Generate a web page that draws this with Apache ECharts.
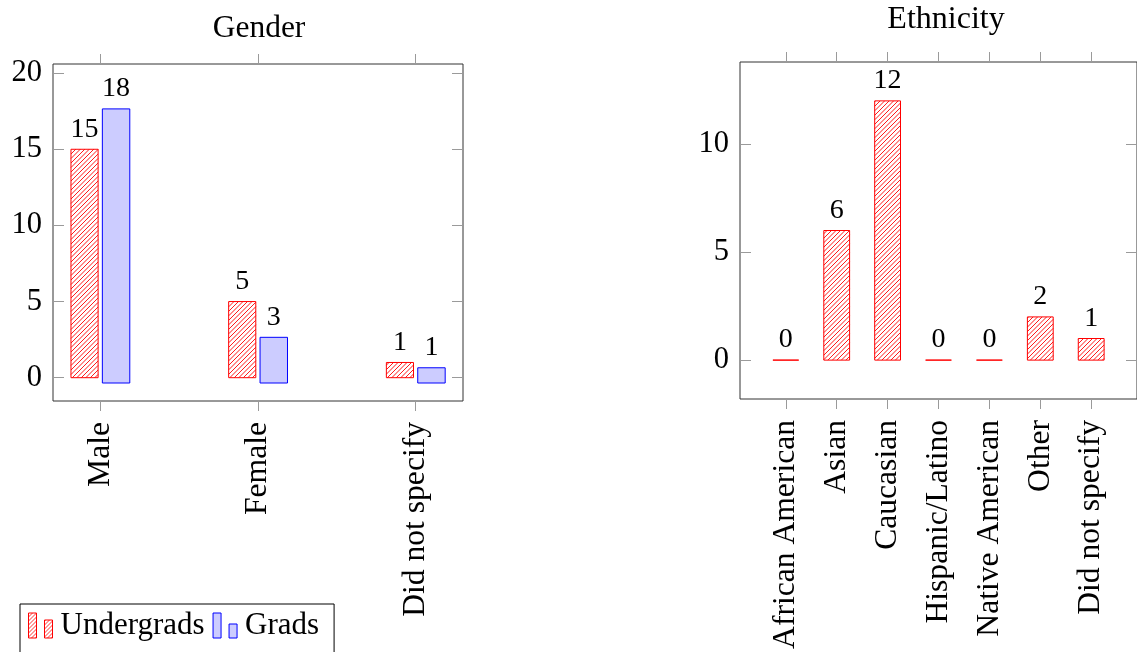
<!DOCTYPE html>
<html><head><meta charset="utf-8">
<script src="https://cdn.jsdelivr.net/npm/echarts@6/dist/echarts.min.js"></script>
<style>html,body{margin:0;padding:0;background:#fff}#c{width:1137px;height:652px}</style>
</head><body><div id="c"></div>
<script>
const genderCategories = ['Male', 'Female', 'Did not specify'];
const undergradGender = [15, 5, 1];
const gradGender = [18, 3, 1];
const ethnicityCategories = ['African American', 'Asian', 'Caucasian', 'Hispanic/Latino', 'Native American', 'Other', 'Did not specify'];
const undergradEthnicity = [0, 6, 12, 0, 0, 2, 1];
const genderTicks = [0, 5, 10, 15, 20];
const ethnicityTicks = [0, 5, 10];

const FONT = '"Liberation Serif", "Times New Roman", serif';
const HATCH_STEP = 4.5;

function makeHatch() {
  const c = document.createElement('canvas');
  c.width = 4; c.height = 4;
  const g = c.getContext('2d');
  g.strokeStyle = '#ff0000';
  g.lineWidth = 0.8;
  g.beginPath();
  g.moveTo(0, 4); g.lineTo(4, 0);
  g.moveTo(-1, 1); g.lineTo(1, -1);
  g.moveTo(3, 5); g.lineTo(5, 3);
  g.stroke();
  return c;
}
const hatchPattern = { image: makeHatch(), repeat: 'repeat' };

function hatchLines(x0, y0, x1, y1, color) {
  const out = [];
  if (y1 - y0 < 1) return out;
  const s = HATCH_STEP;
  for (let c = Math.ceil((x0 + y0) / s) * s; c < x1 + y1; c += s) {
    const xs = Math.max(x0, c - y1), xe = Math.min(x1, c - y0);
    if (xe - xs > 0.3) {
      out.push({ type: 'line', shape: { x1: xs, y1: c - xs, x2: xe, y2: c - xe },
        style: { stroke: color, lineWidth: 0.9 }, silent: true });
    }
  }
  return out;
}

function barRenderer(offset, width, shiftPx, fill, stroke, fontSize, hatched) {
  return function (params, api) {
    const cat = api.value(0), v = api.value(1);
    const a = api.coord([cat + offset - width / 2, 0]);
    const b = api.coord([cat + offset + width / 2, v]);
    const x = a[0], w = b[0] - a[0];
    const yTop = b[1] + shiftPx, yBot = a[1] + shiftPx;
    const children = [
      { type: 'rect', shape: { x: x, y: yTop, width: w, height: Math.max(yBot - yTop, 0) },
        style: { fill: fill, stroke: null } }
    ];
    if (hatched) children.push.apply(children, hatchLines(x, yTop, x + w, yBot, stroke));
    children.push(
      { type: 'rect', shape: { x: x, y: yTop, width: w, height: Math.max(yBot - yTop, 0) },
        style: { fill: null, stroke: stroke, lineWidth: 1 } },
      { type: 'text', x: x + w / 2, y: yTop - 20,
        style: { text: String(v), font: fontSize + 'px ' + FONT, fill: '#000', align: 'center', verticalAlign: 'middle' } }
    );
    return { type: 'group', children: children };
  };
}

const tickStyle = { lineStyle: { color: '#9a9a9a', width: 1 } };

function xAxes(gridIndex, cats, min, max) {
  const idx = cats.map((c, i) => i);
  const common = {
    gridIndex: gridIndex, type: 'value', min: min, max: max,
    axisLine: { show: false, onZero: false }, splitLine: { show: false }
  };
  return [
    Object.assign({}, common, {
      position: 'bottom',
      axisTick: Object.assign({ customValues: idx, inside: false, length: 10 }, tickStyle),
      axisLabel: { customValues: idx, formatter: v => cats[Math.round(v)], rotate: 90, margin: 21,
        fontSize: 31.6, fontFamily: FONT, color: '#000' }
    }),
    Object.assign({}, common, {
      position: 'top',
      axisTick: Object.assign({ customValues: idx, inside: false, length: 10 }, tickStyle),
      axisLabel: { show: false }
    })
  ];
}
function yAxes(gridIndex, ticks, min, max) {
  const common = {
    gridIndex: gridIndex, type: 'value', min: min, max: max,
    axisLine: { show: false, onZero: false }, splitLine: { show: false }
  };
  return [
    Object.assign({}, common, {
      position: 'left',
      axisTick: Object.assign({ customValues: ticks, inside: true, length: 11 }, tickStyle),
      axisLabel: { customValues: ticks, margin: 11, fontSize: 30.5, fontFamily: FONT, color: '#000' }
    }),
    Object.assign({}, common, {
      position: 'right',
      axisTick: Object.assign({ customValues: ticks, inside: true, length: 11 }, tickStyle),
      axisLabel: { show: false }
    })
  ];
}

const chart = echarts.init(document.getElementById('c'), null, { renderer: 'canvas' });
const option = {
  animation: false,
  backgroundColor: '#fff',
  title: [
    { text: 'Gender', left: 254, top: 8, textAlign: 'center',
      textStyle: { fontSize: 31.5, fontWeight: 'normal', fontFamily: FONT, color: '#000' } },
    { text: 'Ethnicity', left: 941, top: -1, textAlign: 'center',
      textStyle: { fontSize: 32, fontWeight: 'normal', fontFamily: FONT, color: '#000' } }
  ],
  legend: {
    left: 20, top: 604, orient: 'horizontal',
    borderColor: '#000', borderWidth: 1, padding: [6, 15, 30, 8],
    itemGap: 8, itemWidth: 24, itemHeight: 25,
    textStyle: { fontSize: 31, fontFamily: FONT, color: '#000', padding: [0, 0, 0, 3] },
    selectedMode: false,
    data: [
      { name: 'Undergrads', icon: 'path://M0,0h8v25h-8zM16,7h8v18h-8z',
        itemStyle: { color: hatchPattern, borderColor: '#ff0000', borderWidth: 1 } },
      { name: 'Grads', icon: 'path://M0,0h8v25h-8zM16,11h8v14h-8z',
        itemStyle: { color: '#ccccff', borderColor: '#0000ff', borderWidth: 1 } }
    ]
  },
  grid: [
    { left: 53, top: 64, width: 410, height: 337, show: true, borderColor: '#333', borderWidth: 1, backgroundColor: 'transparent' },
    { left: 740, top: 62, width: 410, height: 337, show: true, borderColor: '#333', borderWidth: 1, backgroundColor: 'transparent' }
  ],
  xAxis: [].concat(
    xAxes(0, genderCategories, -0.3, 2.3),
    xAxes(1, ethnicityCategories, -0.9, 6.9)
  ),
  yAxis: [].concat(
    yAxes(0, genderTicks, -1.53, 20.6),
    yAxes(1, ethnicityTicks, -1.8, 13.8)
  ),
  series: [
    { name: 'Undergrads', type: 'custom', xAxisIndex: 0, yAxisIndex: 0, clip: false,
      itemStyle: { color: '#ff0000', borderColor: '#ff0000' },
      renderItem: barRenderer(-0.1, 0.172, 0, '#ffffff', '#ff0000', 28, true),
      data: undergradGender.map((v, i) => [i, v]) },
    { name: 'Grads', type: 'custom', xAxisIndex: 0, yAxisIndex: 0, clip: false,
      itemStyle: { color: '#ccccff', borderColor: '#0000ff' },
      renderItem: barRenderer(0.1, 0.174, 5.3, '#ccccff', '#0000ff', 28, false),
      data: gradGender.map((v, i) => [i, v]) },
    { name: 'Undergrads', type: 'custom', xAxisIndex: 2, yAxisIndex: 2, clip: false,
      itemStyle: { color: '#ff0000', borderColor: '#ff0000' },
      renderItem: barRenderer(0, 0.507, 0, '#ffffff', '#ff0000', 28, true),
      data: undergradEthnicity.map((v, i) => [i, v]) }
  ]
};
chart.setOption(option);
</script>
</body></html>
